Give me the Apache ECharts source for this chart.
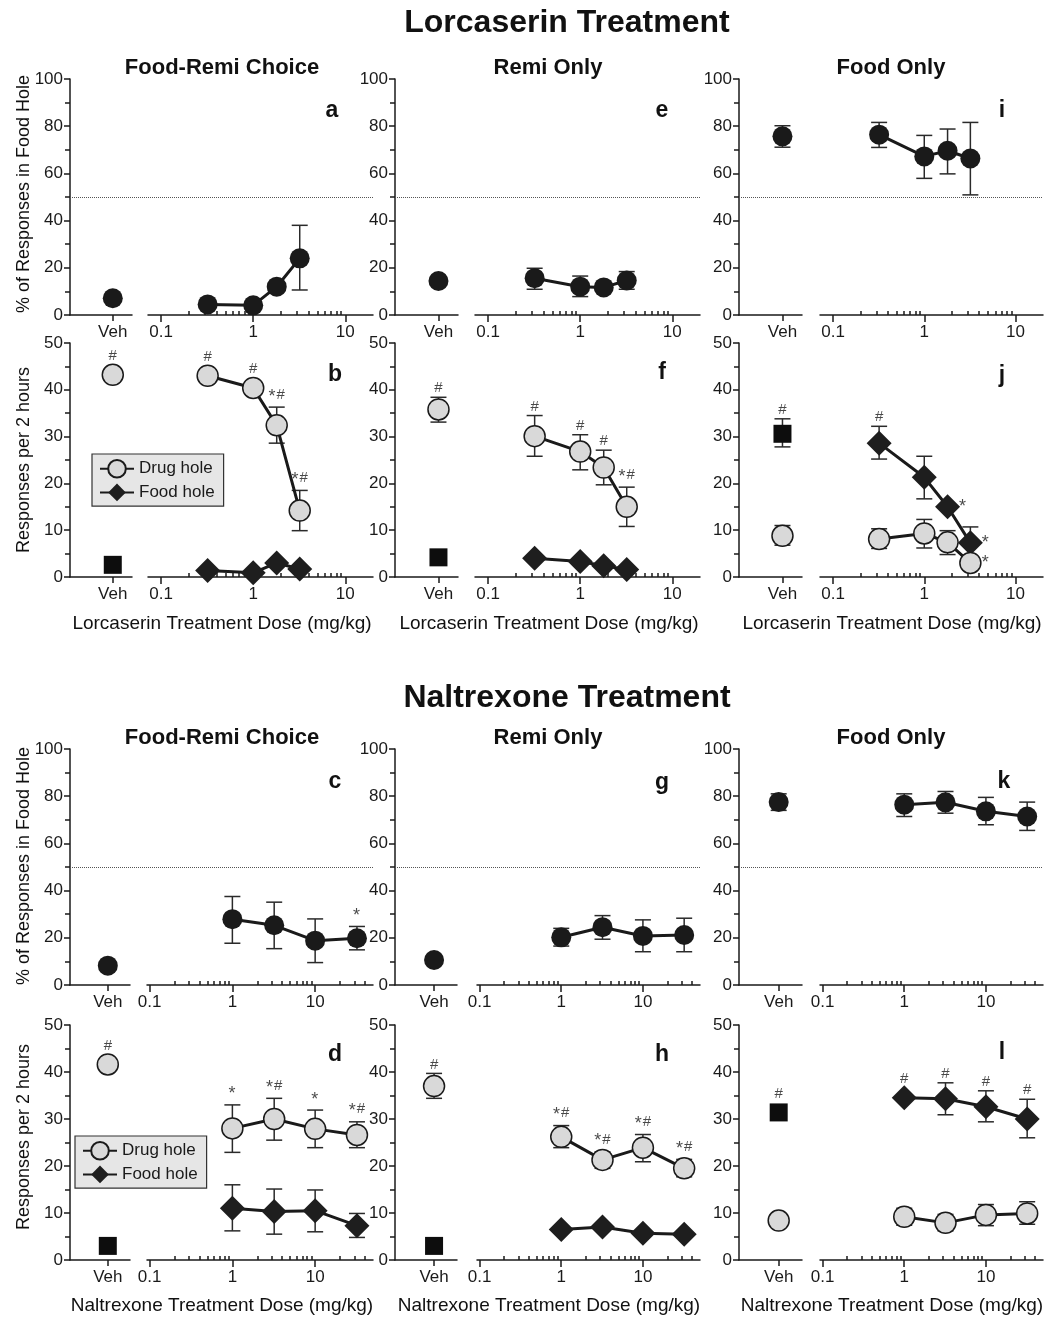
<!DOCTYPE html>
<html><head><meta charset="utf-8">
<script src="https://cdn.jsdelivr.net/npm/echarts@6/dist/echarts.min.js"></script>
<style>html,body{margin:0;padding:0;background:#fff}#c{width:1047px;height:1319px}</style>
</head><body><div id="c"></div>
<script>
// ================= DATA =================
const LORC_DOSES = [0.32, 1, 1.8, 3.2];
const NALT_DOSES = [1, 3.2, 10, 32];
const X_MAJOR_TICKS = [0.1, 1, 10];
const LORC_X_MINOR = [0.2,0.3,0.4,0.5,0.6,0.7,0.8,0.9,2,3,4,5,6,7,8,9];
const NALT_X_MINOR = [0.2,0.3,0.4,0.5,0.6,0.7,0.8,0.9,2,3,4,5,6,7,8,9,20,30,40];
const VEH_LABEL = 'Veh';
const REF_PCT = 50;

// a: Lorcaserin, Food-Remi choice, % food
const aVeh = 7.1, aVehLow = null, aVehHigh = null;
const aPct = [4.5, 4.1, 12, 24];
const aLow = [null, null, null, 10.6];
const aHigh = [null, null, null, 38];
// e: Lorcaserin, Remi only
const eVeh = 14.4, eVehLow = null, eVehHigh = null;
const ePct = [15.6, 12, 11.7, 14.6];
const eLow = [10.9, 7.8, null, 10.9];
const eHigh = [19.8, 16.5, null, 18.4];
// i: Lorcaserin, Food only
const iVeh = 75.7, iVehLow = 71.1, iVehHigh = 80.2;
const iPct = [76.4, 67.2, 69.6, 66.3];
const iLow = [71, 57.9, 59.8, 50.9];
const iHigh = [81.6, 76.1, 78.8, 81.6];

// b: Lorcaserin, Food-Remi choice, responses
const bDrugVeh = 43.2, bDrugVehLow = null, bDrugVehHigh = null, bDrugVehNote = '#';
const bFoodVeh = 2.6, bFoodVehLow = null, bFoodVehHigh = null, bFoodVehNote = '';
const bDrug = [43, 40.4, 32.4, 14.2];
const bDrugLow = [null, null, 28.6, 9.9];
const bDrugHigh = [null, null, 36.3, 18.5];
const bDrugNotes = ['#', '#', '*#', '*#'];
const bFood = [1.4, 0.9, 3, 1.7];
const bFoodLow = [null, null, null, null];
const bFoodHigh = [null, null, null, null];
const bFoodNotes = ['', '', '', ''];
// f: Lorcaserin, Remi only
const fDrugVeh = 35.8, fDrugVehLow = 33.1, fDrugVehHigh = 38.4, fDrugVehNote = '#';
const fFoodVeh = 4.2, fFoodVehLow = null, fFoodVehHigh = null, fFoodVehNote = '';
const fDrug = [30.1, 26.8, 23.4, 15];
const fDrugLow = [25.8, 22.9, 19.7, 10.8];
const fDrugHigh = [34.5, 30.4, 27.1, 19.2];
const fDrugNotes = ['#', '#', '#', '*#'];
const fFood = [4, 3.3, 2.4, 1.6];
const fFoodLow = [null, null, null, null];
const fFoodHigh = [null, null, null, null];
const fFoodNotes = ['', '', '', ''];
// j: Lorcaserin, Food only
const jDrugVeh = 8.8, jDrugVehLow = 6.8, jDrugVehHigh = 11, jDrugVehNote = '';
const jFoodVeh = 30.6, jFoodVehLow = 27.8, jFoodVehHigh = 33.8, jFoodVehNote = '#';
const jDrug = [8.1, 9.3, 7.4, 3];
const jDrugLow = [6.1, 6.2, 4.8, 2.2];
const jDrugHigh = [10.3, 12.3, 9.9, 3.8];
const jDrugNotes = ['', '', '', '*'];
const jFood = [28.6, 21.3, 15, 7.3];
const jFoodLow = [25.2, 16.7, null, 3.7];
const jFoodHigh = [32.2, 25.8, null, 10.7];
const jFoodNotes = ['#', '', '*', '*'];

// c: Naltrexone, Food-Remi choice, % food
const cVeh = 8.2, cVehLow = null, cVehHigh = null;
const cPct = [27.9, 25.3, 18.8, 19.8];
const cLow = [17.7, 15.4, 9.5, 14.9];
const cHigh = [37.5, 35.1, 28, 24.8];
const cNotes = ['', '', '', '*'];
// g: Naltrexone, Remi only
const gVeh = 10.6, gVehLow = null, gVehHigh = null;
const gPct = [20.2, 24.5, 20.8, 21.2];
const gLow = [16.5, 19.4, 14.1, 14.1];
const gHigh = [24, 29.4, 27.6, 28.3];
// k: Naltrexone, Food only
const kVeh = 77.5, kVehLow = 74, kVehHigh = 81;
const kPct = [76.4, 77.4, 73.6, 71.4];
const kLow = [71.4, 72.8, 67.9, 65.5];
const kHigh = [81, 82, 79.5, 77.5];

// d: Naltrexone, Food-Remi choice, responses
const dDrugVeh = 41.6, dDrugVehLow = null, dDrugVehHigh = null, dDrugVehNote = '#';
const dFoodVeh = 3, dFoodVehLow = null, dFoodVehHigh = null, dFoodVehNote = '';
const dDrug = [28, 30, 27.9, 26.6];
const dDrugLow = [22.9, 25.5, 23.9, 23.9];
const dDrugHigh = [33, 34.4, 31.9, 29.4];
const dDrugNotes = ['*', '*#', '*', '*#'];
const dFood = [11, 10.3, 10.5, 7.3];
const dFoodLow = [6.2, 5.5, 6, 4.8];
const dFoodHigh = [16, 15.1, 14.9, 9.9];
const dFoodNotes = ['', '', '', ''];
// h: Naltrexone, Remi only
const hDrugVeh = 37, hDrugVehLow = 34.4, hDrugVehHigh = 39.7, hDrugVehNote = '#';
const hFoodVeh = 3, hFoodVehLow = null, hFoodVehHigh = null, hFoodVehNote = '';
const hDrug = [26.2, 21.3, 23.9, 19.5];
const hDrugLow = [23.9, 19.5, 20.9, 17.7];
const hDrugHigh = [28.6, 23, 26.7, 21.4];
const hDrugNotes = ['*#', '*#', '*#', '*#'];
const hFood = [6.5, 7, 5.7, 5.5];
const hFoodLow = [null, null, null, null];
const hFoodHigh = [null, null, null, null];
const hFoodNotes = ['', '', '', ''];
// l: Naltrexone, Food only
const lDrugVeh = 8.4, lDrugVehLow = null, lDrugVehHigh = null, lDrugVehNote = '';
const lFoodVeh = 31.4, lFoodVehLow = null, lFoodVehHigh = null, lFoodVehNote = '#';
const lDrug = [9.2, 7.9, 9.6, 9.9];
const lDrugLow = [7.4, 6.2, 7.3, 7.6];
const lDrugHigh = [11, 9.7, 11.8, 12.4];
const lDrugNotes = ['', '', '', ''];
const lFood = [34.5, 34.3, 32.6, 30];
const lFoodLow = [null, 30.9, 29.4, 26];
const lFoodHigh = [null, 37.7, 36, 34.2];
const lFoodNotes = ['#', '#', '#', '#'];

// ================= LAYOUT / STYLE =================
const FONT = '"Liberation Sans", Arial, Helvetica, sans-serif';
const INK = '#1a1a1a';
const ROWS = {
  lorcTop: {top: 79, height: 236}, lorcBot: {top: 343, height: 234},
  naltTop: {top: 749, height: 236}, naltBot: {top: 1025, height: 235}
};
const LORC_COLS = [
  {veh: [70, 62], log: [148, 225]}, {veh: [395, 63], log: [475, 225]}, {veh: [739, 63], log: [820, 223]}
];
const NALT_COLS = [
  {veh: [70, 60], log: [147, 226]}, {veh: [395, 62], log: [477, 223]}, {veh: [739, 63], log: [820, 223]}
];
const LORC_AXIS = {min: 0.072, max: 20, minor: LORC_X_MINOR, vehPos: 0.69, doses: LORC_DOSES, cols: LORC_COLS};
const NALT_AXIS = {min: 0.093, max: 50, minor: NALT_X_MINOR, vehPos: 0.63, doses: NALT_DOSES, cols: NALT_COLS};

const grids = [], xAxes = [], yAxes = [], series = [], texts = [];
const lineStyleAxis = {color: INK, width: 1.5};

function addGrid(left, width, row) {
  grids.push({left: left, width: width, top: row.top, height: row.height, containLabel: false});
  return grids.length - 1;
}
function yAxisFor(gi, kind, visible) {
  const isPct = kind === 'pct';
  yAxes.push({
    gridIndex: gi, type: 'value', min: 0, max: isPct ? 100 : 50, interval: isPct ? 20 : 10,
    show: visible,
    axisLine: {show: true, lineStyle: lineStyleAxis},
    axisTick: {show: true, length: 6, lineStyle: lineStyleAxis},
    minorTick: {show: true, splitNumber: 2, length: 5, lineStyle: lineStyleAxis},
    axisLabel: {color: INK, fontSize: 17, fontFamily: FONT, margin: 7},
    splitLine: {show: false}
  });
  return yAxes.length - 1;
}
function errPoints(xs, lo, hi) {
  const out = [];
  xs.forEach((x, i) => { if (lo[i] != null && hi[i] != null) out.push([x, lo[i], hi[i]]); });
  return out;
}
function errSeries(xi, yi, pts) {
  if (!pts.length) return;
  series.push({
    type: 'custom', xAxisIndex: xi, yAxisIndex: yi, z: 2, silent: true,
    encode: {x: 0, y: [1, 2]},
    data: pts,
    renderItem: function (params, api) {
      const x = api.value(0);
      const pLo = api.coord([x, api.value(1)]);
      const pHi = api.coord([x, api.value(2)]);
      const w = 8;
      const st = {stroke: '#2a2a2a', lineWidth: 1.5, fill: null};
      return {type: 'group', children: [
        {type: 'line', shape: {x1: pLo[0], y1: pLo[1], x2: pHi[0], y2: pHi[1]}, style: st},
        {type: 'line', shape: {x1: pLo[0] - w, y1: pLo[1], x2: pLo[0] + w, y2: pLo[1]}, style: st},
        {type: 'line', shape: {x1: pHi[0] - w, y1: pHi[1], x2: pHi[0] + w, y2: pHi[1]}, style: st}
      ]};
    }
  });
}
function noteSeries(xi, yi, xs, vals, highs, notes, starRight) {
  const items = [];
  xs.forEach((x, i) => {
    const t = notes[i];
    if (!t) return;
    if (starRight && t === '*') {
      items.push({value: [x, vals[i]], label: {show: true, formatter: t, position: 'right', distance: 11, fontSize: 18}});
    } else {
      const hasHi = highs[i] != null;
      items.push({value: [x, hasHi ? highs[i] : vals[i]],
        label: {show: true, formatter: t.replace('*', '{s|*}'), position: 'top', distance: hasHi ? 1 : 11}});
    }
  });
  if (!items.length) return;
  series.push({
    type: 'scatter', xAxisIndex: xi, yAxisIndex: yi, z: 6, silent: true,
    symbolSize: 1, itemStyle: {color: 'transparent'},
    label: {show: true, color: INK, fontSize: 15, fontFamily: FONT,
      rich: {s: {fontSize: 18, color: INK, fontFamily: FONT, padding: [4, 1, 0, 0]}}},
    data: items
  });
}
const DRUG_STYLE = {symbol: 'circle', symbolSize: 21, itemStyle: {color: '#d9d9d9', borderColor: INK, borderWidth: 1.5, opacity: 1}};
const FOOD_STYLE = {symbol: 'diamond', symbolSize: 25, itemStyle: {color: '#1e1e1e', opacity: 1}};
const PCT_STYLE = {symbol: 'circle', symbolSize: 20, itemStyle: {color: '#1a1a1a', opacity: 1}};
const SQUARE_STYLE = {symbol: 'rect', symbolSize: 18, itemStyle: {color: '#0d0d0d', opacity: 1}};

function buildPanel(p) {
  const ax = p.axis;
  const col = ax.cols[p.col];
  const row = ROWS[p.row];
  // Veh grid
  const gv = addGrid(col.veh[0], col.veh[1], row);
  xAxes.push({
    gridIndex: gv, type: 'value', min: 0, max: 1,
    axisLine: {show: true, onZero: false, lineStyle: lineStyleAxis},
    axisTick: {show: true, length: 6, customValues: [ax.vehPos], lineStyle: lineStyleAxis},
    axisLabel: {show: true, customValues: [ax.vehPos], formatter: () => VEH_LABEL, color: INK, fontSize: 17, fontFamily: FONT, margin: 9},
    splitLine: {show: false}
  });
  const xv = xAxes.length - 1;
  const yv = yAxisFor(gv, p.kind, true);
  // log grid
  const gl = addGrid(col.log[0], col.log[1], row);
  xAxes.push({
    gridIndex: gl, type: 'log', logBase: 10, min: ax.min, max: ax.max,
    axisLine: {show: true, onZero: false, lineStyle: lineStyleAxis},
    axisTick: {show: true, length: 7, customValues: X_MAJOR_TICKS, lineStyle: lineStyleAxis},
    axisLabel: {show: true, customValues: X_MAJOR_TICKS, formatter: v => String(+(+v).toPrecision(3)), color: INK, fontSize: 17, fontFamily: FONT, margin: 9},
    splitLine: {show: false}
  });
  const xl = xAxes.length - 1;
  xAxes.push({
    gridIndex: gl, type: 'log', logBase: 10, min: ax.min, max: ax.max,
    axisLine: {show: false},
    axisTick: {show: true, length: 4, customValues: ax.minor, lineStyle: lineStyleAxis},
    axisLabel: {show: false},
    splitLine: {show: false}
  });
  const yl = yAxisFor(gl, p.kind, false);
  const doses = ax.doses;

  if (p.kind === 'pct') {
    // reference line across the whole panel
    const go = addGrid(col.veh[0], col.log[0] + col.log[1] - col.veh[0], row);
    xAxes.push({gridIndex: go, type: 'value', min: 0, max: 1, show: false});
    yAxes.push({gridIndex: go, type: 'value', min: 0, max: 100, show: false});
    series.push({
      type: 'line', xAxisIndex: xAxes.length - 1, yAxisIndex: yAxes.length - 1, data: [], silent: true,
      markLine: {silent: true, symbol: 'none', label: {show: false},
        lineStyle: {type: 'dotted', color: '#555', width: 1}, data: [{yAxis: REF_PCT}]}
    });
    series.push(Object.assign({type: 'scatter', name: 'pct-veh', xAxisIndex: xv, yAxisIndex: yv, z: 4,
      data: [[ax.vehPos, p.veh]]}, PCT_STYLE));
    errSeries(xv, yv, errPoints([ax.vehPos], [p.vehLow], [p.vehHigh]));
    series.push(Object.assign({type: 'line', name: 'pct', xAxisIndex: xl, yAxisIndex: yl, z: 4,
      data: doses.map((d, i) => [d, p.mean[i]]), lineStyle: {color: INK, width: 3}}, PCT_STYLE));
    errSeries(xl, yl, errPoints(doses, p.low, p.high));
    if (p.notes) noteSeries(xl, yl, doses, p.mean, p.high, p.notes, false);
  } else {
    series.push(Object.assign({type: 'scatter', name: 'drug-veh', xAxisIndex: xv, yAxisIndex: yv, z: 4,
      data: [[ax.vehPos, p.drugVeh]]}, DRUG_STYLE));
    series.push(Object.assign({type: 'scatter', name: 'food-veh', xAxisIndex: xv, yAxisIndex: yv, z: 4,
      data: [[ax.vehPos, p.foodVeh]]}, SQUARE_STYLE));
    errSeries(xv, yv, errPoints([ax.vehPos, ax.vehPos], [p.drugVehLow, p.foodVehLow], [p.drugVehHigh, p.foodVehHigh]));
    noteSeries(xv, yv, [ax.vehPos, ax.vehPos], [p.drugVeh, p.foodVeh], [p.drugVehHigh, p.foodVehHigh], [p.drugVehNote, p.foodVehNote], false);

    series.push(Object.assign({type: 'line', name: 'Food hole', xAxisIndex: xl, yAxisIndex: yl, z: 4,
      data: doses.map((d, i) => [d, p.food[i]]), lineStyle: {color: INK, width: 3}}, FOOD_STYLE));
    series.push(Object.assign({type: 'line', name: 'Drug hole', xAxisIndex: xl, yAxisIndex: yl, z: 4,
      data: doses.map((d, i) => [d, p.drug[i]]), lineStyle: {color: INK, width: 3}}, DRUG_STYLE));
    errSeries(xl, yl, errPoints(doses, p.drugLow, p.drugHigh));
    errSeries(xl, yl, errPoints(doses, p.foodLow, p.foodHigh));
    noteSeries(xl, yl, doses, p.drug, p.drugHigh, p.drugNotes, p.starRight);
    noteSeries(xl, yl, doses, p.food, p.foodHigh, p.foodNotes, p.starRight);
  }
}

const panels = [
  {kind: 'pct', row: 'lorcTop', col: 0, axis: LORC_AXIS, veh: aVeh, vehLow: aVehLow, vehHigh: aVehHigh, mean: aPct, low: aLow, high: aHigh},
  {kind: 'pct', row: 'lorcTop', col: 1, axis: LORC_AXIS, veh: eVeh, vehLow: eVehLow, vehHigh: eVehHigh, mean: ePct, low: eLow, high: eHigh},
  {kind: 'pct', row: 'lorcTop', col: 2, axis: LORC_AXIS, veh: iVeh, vehLow: iVehLow, vehHigh: iVehHigh, mean: iPct, low: iLow, high: iHigh},
  {kind: 'resp', row: 'lorcBot', col: 0, axis: LORC_AXIS,
    drugVeh: bDrugVeh, drugVehLow: bDrugVehLow, drugVehHigh: bDrugVehHigh, drugVehNote: bDrugVehNote,
    foodVeh: bFoodVeh, foodVehLow: bFoodVehLow, foodVehHigh: bFoodVehHigh, foodVehNote: bFoodVehNote,
    drug: bDrug, drugLow: bDrugLow, drugHigh: bDrugHigh, drugNotes: bDrugNotes,
    food: bFood, foodLow: bFoodLow, foodHigh: bFoodHigh, foodNotes: bFoodNotes},
  {kind: 'resp', row: 'lorcBot', col: 1, axis: LORC_AXIS,
    drugVeh: fDrugVeh, drugVehLow: fDrugVehLow, drugVehHigh: fDrugVehHigh, drugVehNote: fDrugVehNote,
    foodVeh: fFoodVeh, foodVehLow: fFoodVehLow, foodVehHigh: fFoodVehHigh, foodVehNote: fFoodVehNote,
    drug: fDrug, drugLow: fDrugLow, drugHigh: fDrugHigh, drugNotes: fDrugNotes,
    food: fFood, foodLow: fFoodLow, foodHigh: fFoodHigh, foodNotes: fFoodNotes},
  {kind: 'resp', row: 'lorcBot', col: 2, axis: LORC_AXIS, starRight: true,
    drugVeh: jDrugVeh, drugVehLow: jDrugVehLow, drugVehHigh: jDrugVehHigh, drugVehNote: jDrugVehNote,
    foodVeh: jFoodVeh, foodVehLow: jFoodVehLow, foodVehHigh: jFoodVehHigh, foodVehNote: jFoodVehNote,
    drug: jDrug, drugLow: jDrugLow, drugHigh: jDrugHigh, drugNotes: jDrugNotes,
    food: jFood, foodLow: jFoodLow, foodHigh: jFoodHigh, foodNotes: jFoodNotes},
  {kind: 'pct', row: 'naltTop', col: 0, axis: NALT_AXIS, veh: cVeh, vehLow: cVehLow, vehHigh: cVehHigh, mean: cPct, low: cLow, high: cHigh, notes: cNotes},
  {kind: 'pct', row: 'naltTop', col: 1, axis: NALT_AXIS, veh: gVeh, vehLow: gVehLow, vehHigh: gVehHigh, mean: gPct, low: gLow, high: gHigh},
  {kind: 'pct', row: 'naltTop', col: 2, axis: NALT_AXIS, veh: kVeh, vehLow: kVehLow, vehHigh: kVehHigh, mean: kPct, low: kLow, high: kHigh},
  {kind: 'resp', row: 'naltBot', col: 0, axis: NALT_AXIS,
    drugVeh: dDrugVeh, drugVehLow: dDrugVehLow, drugVehHigh: dDrugVehHigh, drugVehNote: dDrugVehNote,
    foodVeh: dFoodVeh, foodVehLow: dFoodVehLow, foodVehHigh: dFoodVehHigh, foodVehNote: dFoodVehNote,
    drug: dDrug, drugLow: dDrugLow, drugHigh: dDrugHigh, drugNotes: dDrugNotes,
    food: dFood, foodLow: dFoodLow, foodHigh: dFoodHigh, foodNotes: dFoodNotes},
  {kind: 'resp', row: 'naltBot', col: 1, axis: NALT_AXIS,
    drugVeh: hDrugVeh, drugVehLow: hDrugVehLow, drugVehHigh: hDrugVehHigh, drugVehNote: hDrugVehNote,
    foodVeh: hFoodVeh, foodVehLow: hFoodVehLow, foodVehHigh: hFoodVehHigh, foodVehNote: hFoodVehNote,
    drug: hDrug, drugLow: hDrugLow, drugHigh: hDrugHigh, drugNotes: hDrugNotes,
    food: hFood, foodLow: hFoodLow, foodHigh: hFoodHigh, foodNotes: hFoodNotes},
  {kind: 'resp', row: 'naltBot', col: 2, axis: NALT_AXIS,
    drugVeh: lDrugVeh, drugVehLow: lDrugVehLow, drugVehHigh: lDrugVehHigh, drugVehNote: lDrugVehNote,
    foodVeh: lFoodVeh, foodVehLow: lFoodVehLow, foodVehHigh: lFoodVehHigh, foodVehNote: lFoodVehNote,
    drug: lDrug, drugLow: lDrugLow, drugHigh: lDrugHigh, drugNotes: lDrugNotes,
    food: lFood, foodLow: lFoodLow, foodHigh: lFoodHigh, foodNotes: lFoodNotes}
];
panels.forEach(buildPanel);

// ================= TEXT =================
function addText(x, y, text, size, bold, vertical) {
  texts.push({type: 'text', x: x, y: y, rotation: vertical ? Math.PI / 2 : 0, silent: true,
    style: {text: text, fontSize: size, fontWeight: bold ? 'bold' : 'normal', fontFamily: FONT, fill: '#111',
      align: 'center', verticalAlign: 'middle'}});
}
addText(567, 23, 'Lorcaserin Treatment', 32, true);
addText(567, 698, 'Naltrexone Treatment', 32, true);
[['Food-Remi Choice', 222], ['Remi Only', 548], ['Food Only', 891]].forEach(([t, x]) => {
  addText(x, 68, t, 22, true);
  addText(x, 738, t, 22, true);
});
[['a', 332, 111], ['e', 662, 111], ['i', 1002, 111], ['b', 335, 375], ['f', 662, 373], ['j', 1002, 376],
 ['c', 335, 782], ['g', 662, 783], ['k', 1004, 782], ['d', 335, 1055], ['h', 662, 1055], ['l', 1002, 1053]]
  .forEach(([t, x, y]) => addText(x, y, t, 23, true));
addText(24, 194, '% of Responses in Food Hole', 18, false, true);
addText(24, 460, 'Responses per 2 hours', 18, false, true);
addText(24, 866, '% of Responses in Food Hole', 18, false, true);
addText(24, 1137, 'Responses per 2 hours', 18, false, true);
[222, 549, 892].forEach(x => {
  addText(x, 624, 'Lorcaserin Treatment Dose (mg/kg)', 19, false);
  addText(x, 1306, 'Naltrexone Treatment Dose (mg/kg)', 19, false);
});

const legendBase = {
  data: ['Drug hole', 'Food hole'], orient: 'vertical', selectedMode: false,
  backgroundColor: '#e6e6e6', borderColor: '#333', borderWidth: 1.2, borderRadius: 0,
  padding: [5, 9, 5, 7], itemGap: 5, itemWidth: 34, itemHeight: 22,
  textStyle: {fontSize: 17, color: INK, fontFamily: FONT}
};
const legends = [
  Object.assign({left: 92, top: 454}, legendBase),
  Object.assign({left: 75, top: 1136}, legendBase)
];

const chart = echarts.init(document.getElementById('c'), null, {renderer: 'canvas'});
chart.setOption({
  animation: false,
  backgroundColor: '#ffffff',
  textStyle: {fontFamily: FONT},
  grid: grids, xAxis: xAxes, yAxis: yAxes, series: series, legend: legends, graphic: texts
});
</script></body></html>
